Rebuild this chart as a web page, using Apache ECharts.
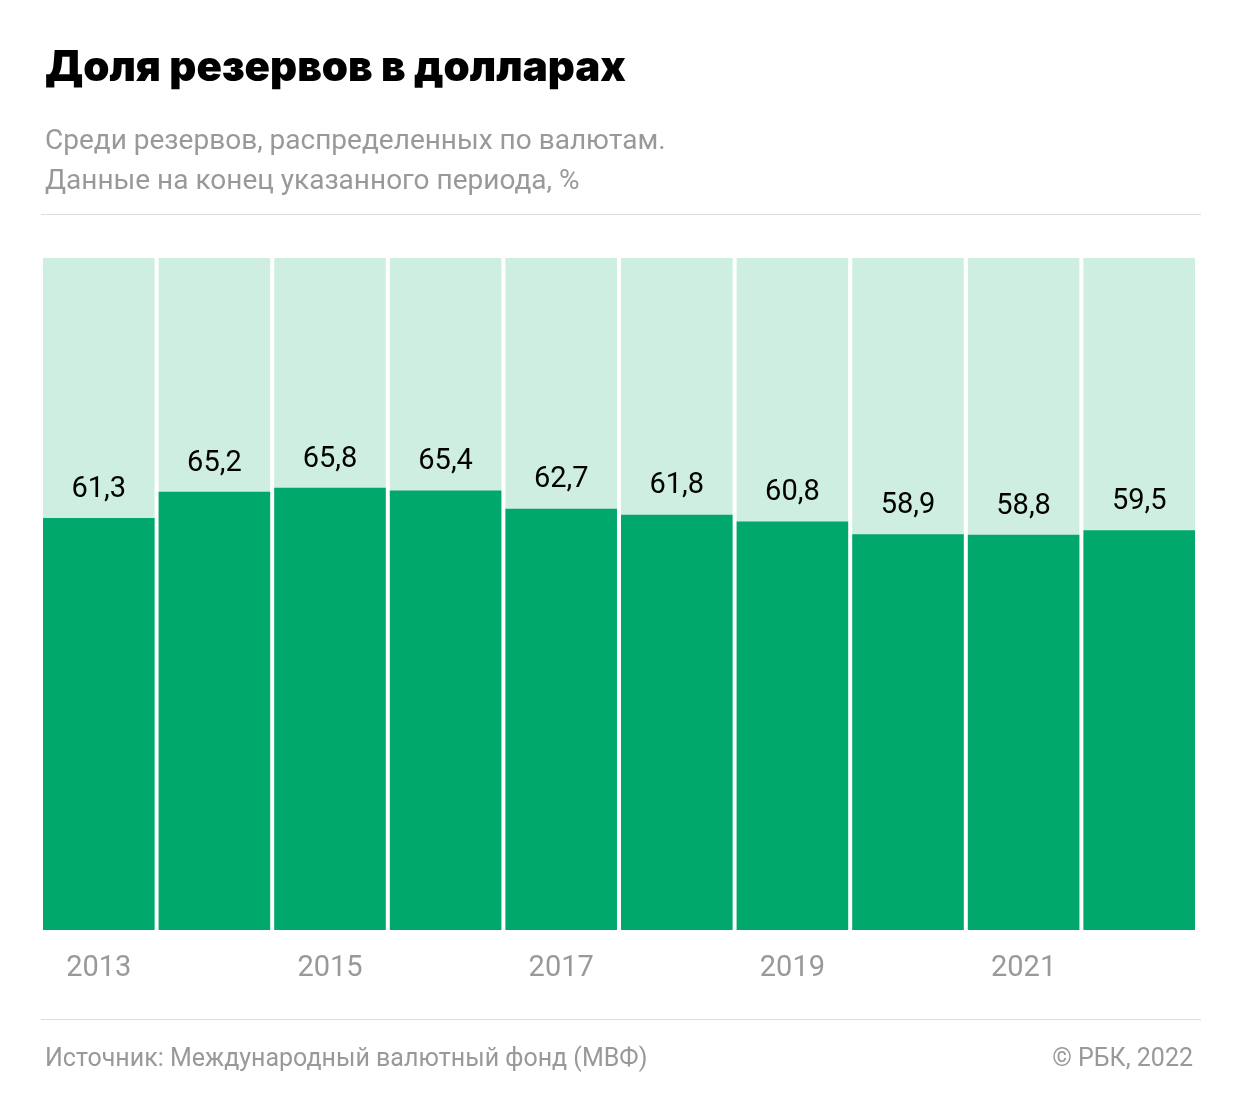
<!DOCTYPE html>
<html><head><meta charset="utf-8">
<script src="https://cdn.jsdelivr.net/npm/echarts@6/dist/echarts.min.js"></script>
<style>html,body{margin:0;padding:0;background:#fff}#c{width:1242px;height:1116px}</style>
</head><body><div id="c"></div>
<script>
const categories = ['2013','2014','2015','2016','2017','2018','2019','2020','2021','2 кв. 22'];
const usdShare = [61.3,65.2,65.8,65.4,62.7,61.8,60.8,58.9,58.8,59.5];
const total = categories.map(() => 100);
const chart = echarts.init(document.getElementById('c'));
const F = 'Roboto, "Noto Sans", sans-serif';
chart.setOption({
  animation: false,
  textStyle: {fontFamily: F},
  title: [
    {text: 'Доля резервов в долларах', left: 40, top: 42, textStyle: {fontFamily: 'Inter, Roboto, sans-serif', fontSize: 42, fontWeight: 900, color: '#000'}},
    {text: 'Среди резервов, распределенных по валютам.\nДанные на конец указанного периода, %', left: 40, top: 117, textStyle: {fontFamily: F, fontSize: 28, fontWeight: 'normal', color: '#999', lineHeight: 40}},
    {text: 'Источник: Международный валютный фонд (МВФ)', left: 40, top: 1042, textStyle: {fontFamily: F, fontSize: 25, fontWeight: 'normal', color: '#999'}},
    {text: '© РБК, 2022', right: 44, top: 1042, textStyle: {fontFamily: F, fontSize: 25, fontWeight: 'normal', color: '#999'}}
  ],
  graphic: [
    {type: 'rect', shape: {x: 41, y: 214, width: 1160, height: 1}, style: {fill: '#dddddd'}},
    {type: 'rect', shape: {x: 41, y: 1019, width: 1160, height: 1}, style: {fill: '#dddddd'}}
  ],
  grid: {left: 41, right: 45, top: 258, bottom: 186},
  xAxis: {type: 'category', data: categories, axisLine: {show: false}, axisTick: {show: false},
    axisLabel: {color: '#999', fontSize: 29, margin: 24, fontFamily: F}},
  yAxis: {type: 'value', min: 0, max: 100, show: false},
  series: [
    {type: 'bar', data: total, barCategoryGap: '3.5%', barGap: '-100%', itemStyle: {color: '#cdeee0'}, silent: true},
    {type: 'bar', data: usdShare, barCategoryGap: '3.5%', itemStyle: {color: '#00a86b'},
      label: {show: true, position: 'top', distance: 14, color: '#000', fontSize: 29, fontFamily: F,
        formatter: p => String(p.value).replace('.', ',')}}
  ]
});
</script></body></html>
